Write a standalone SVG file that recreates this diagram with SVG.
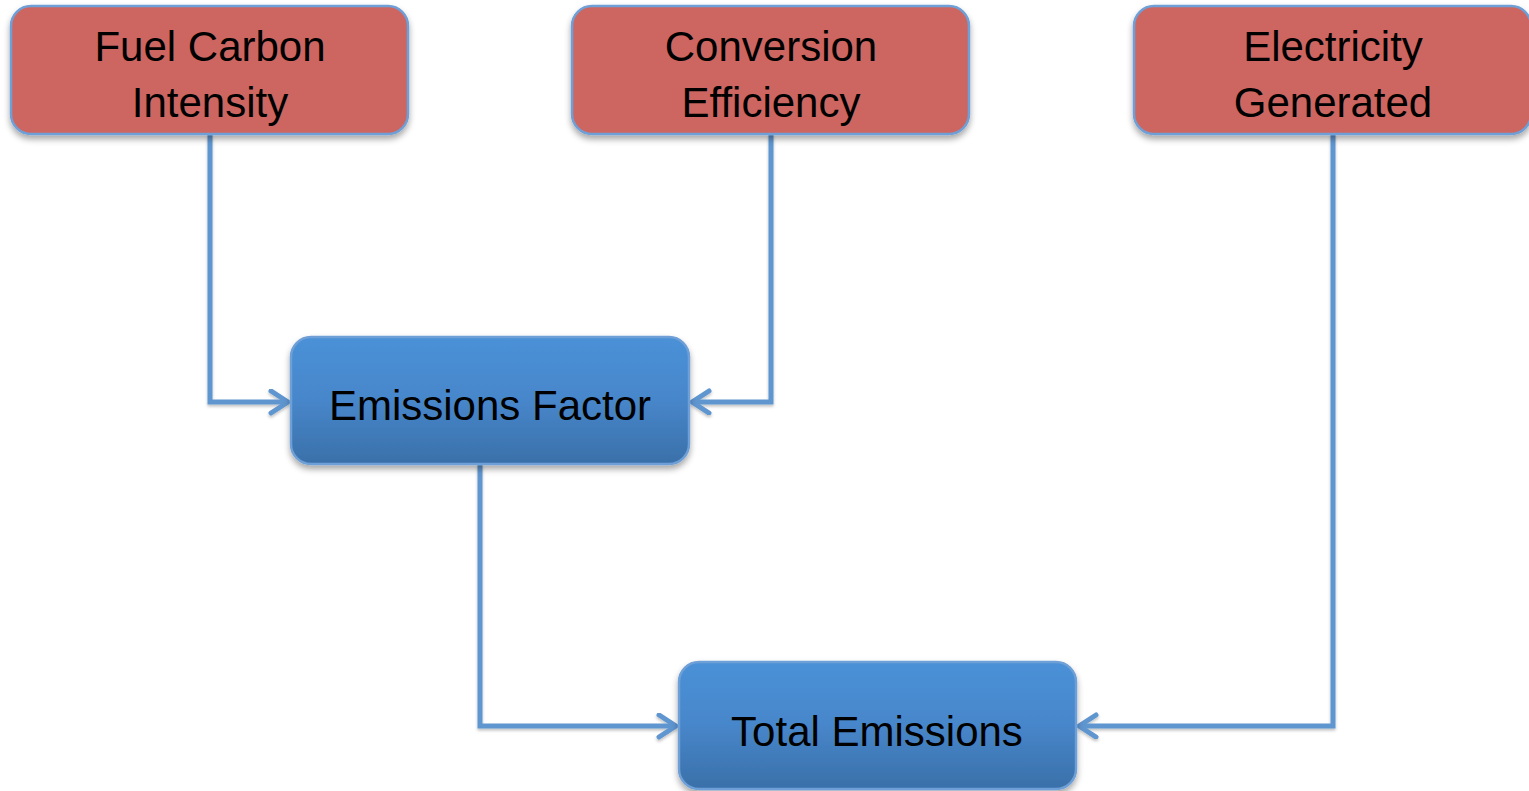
<svg xmlns="http://www.w3.org/2000/svg" width="1529" height="791" viewBox="0 0 1529 791">
<style>
.red{fill:#CD6660;stroke:#6E9FD6;stroke-width:2.5}
.blue{fill:url(#bg);stroke:#6E9FD6;stroke-width:2.5}
.t{font-family:"Liberation Sans",Arial,sans-serif;font-size:42px;fill:#000;text-anchor:middle}
.c{fill:none;stroke:#5F96D0;stroke-width:5}
</style>
<defs>
<linearGradient id="bg" x1="0" y1="0" x2="0" y2="1">
<stop offset="0" stop-color="#4B91D7"/>
<stop offset="0.5" stop-color="#4786CA"/>
<stop offset="1" stop-color="#3A70A9"/>
</linearGradient>
<filter id="sh" x="-10%" y="-10%" width="120%" height="130%">
<feDropShadow dx="0" dy="4" stdDeviation="3" flood-color="#000" flood-opacity="0.35"/>
</filter>
<filter id="lsh" x="-10%" y="-10%" width="120%" height="120%">
<feDropShadow dx="0" dy="2" stdDeviation="1.5" flood-color="#000" flood-opacity="0.25"/>
</filter>
<marker id="ar" markerWidth="24" markerHeight="30" refX="20" refY="13" orient="auto" markerUnits="userSpaceOnUse">
<path d="M3,2 L20,13 L3,24" fill="none" stroke="#5F96D0" stroke-width="5" stroke-linecap="round" stroke-linejoin="round"/>
</marker>
</defs>
<g id="connectors" filter="url(#lsh)">
<path class="c" d="M210,134 V402 H288" marker-end="url(#ar)"/>
<path class="c" d="M771,134 V402 H692" marker-end="url(#ar)"/>
<path class="c" d="M480,464 V726 H676" marker-end="url(#ar)"/>
<path class="c" d="M1333,134 V726 H1079" marker-end="url(#ar)"/>
</g>
<g id="fuel-carbon-intensity">
<rect class="red" x="11" y="6" width="397" height="128" rx="20" filter="url(#sh)"/>
<text class="t" x="210" y="61">Fuel Carbon</text>
<text class="t" x="210" y="117">Intensity</text>
</g>
<g id="conversion-efficiency">
<rect class="red" x="572" y="6" width="397" height="128" rx="20" filter="url(#sh)"/>
<text class="t" x="771" y="61">Conversion</text>
<text class="t" x="771" y="117">Efficiency</text>
</g>
<g id="electricity-generated">
<rect class="red" x="1134" y="6" width="397" height="128" rx="20" filter="url(#sh)"/>
<text class="t" x="1333" y="61">Electricity</text>
<text class="t" x="1333" y="117">Generated</text>
</g>
<g id="emissions-factor">
<rect class="blue" x="291" y="337" width="398" height="127" rx="20" filter="url(#sh)"/>
<text class="t" x="490" y="420">Emissions Factor</text>
</g>
<g id="total-emissions">
<rect class="blue" x="679" y="662" width="397" height="127" rx="20" filter="url(#sh)"/>
<text class="t" x="877" y="746">Total Emissions</text>
</g>
</svg>
